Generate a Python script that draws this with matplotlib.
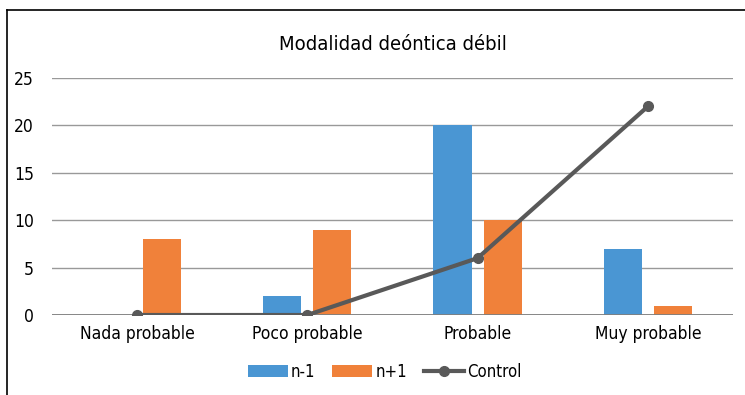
import numpy as np
import matplotlib
matplotlib.use('Agg')
from matplotlib import pyplot as plt
from matplotlib.lines import Line2D

categorias = ['Nada probable', 'Poco probable', 'Probable', 'Muy probable']
n_menos = [0, 2, 20, 7]
n_mas = [8, 9, 10, 1]
control = [0, 0, 6, 22]

plt.rcParams['font.family'] = ['DejaVu Sans']
plt.rcParams['font.stretch'] = 'condensed'

fig = plt.figure(figsize=(7.45, 3.95), dpi=100)
ax = fig.add_axes([0.0698, 0.2025, 0.914, 0.6])

x = np.arange(len(categorias))
ancho = 0.224
b1 = ax.bar(x - 0.147, n_menos, ancho, color='#4a96d3', label='n-1', zorder=2)
b2 = ax.bar(x + 0.147, n_mas, ancho, color='#f0813a', label='n+1', zorder=2)
l1, = ax.plot(x, control, color='#595959', lw=3, marker='o', ms=7, label='Control', zorder=4)
ax.axhline(0, color='#7f7f7f', lw=1.3, zorder=3)

ax.set_xlim(-0.5, 3.5)
ax.set_ylim(0, 25)
ax.set_yticks(range(0, 26, 5))
ax.set_xticks(x)
ax.set_xticklabels(categorias)
ax.yaxis.grid(True, color='#999999', lw=1, zorder=0)
for s in ax.spines.values():
  s.set_visible(False)
ax.tick_params(length=0, labelsize=12.5, colors='black')
ax.tick_params(axis='y', pad=13)
ax.tick_params(axis='x', pad=7)

ax.set_title('Modalidad deóntica débil', fontsize=14.5, pad=20)

fig.legend([b1, b2, l1], ['n-1', 'n+1', 'Control'], loc='center',
           bbox_to_anchor=(0.516, 0.058), ncol=3, frameon=False,
           fontsize=12, handlelength=2.4, columnspacing=1.0, handletextpad=0.2)

# marco del gráfico
fig.add_artist(Line2D([0.0094, 0.0094], [0, 0.975], color='black', lw=1.2, transform=fig.transFigure))
fig.add_artist(Line2D([0.0094, 1], [0.975, 0.975], color='black', lw=1.2, transform=fig.transFigure))

fig.savefig('out.png', dpi=100)
